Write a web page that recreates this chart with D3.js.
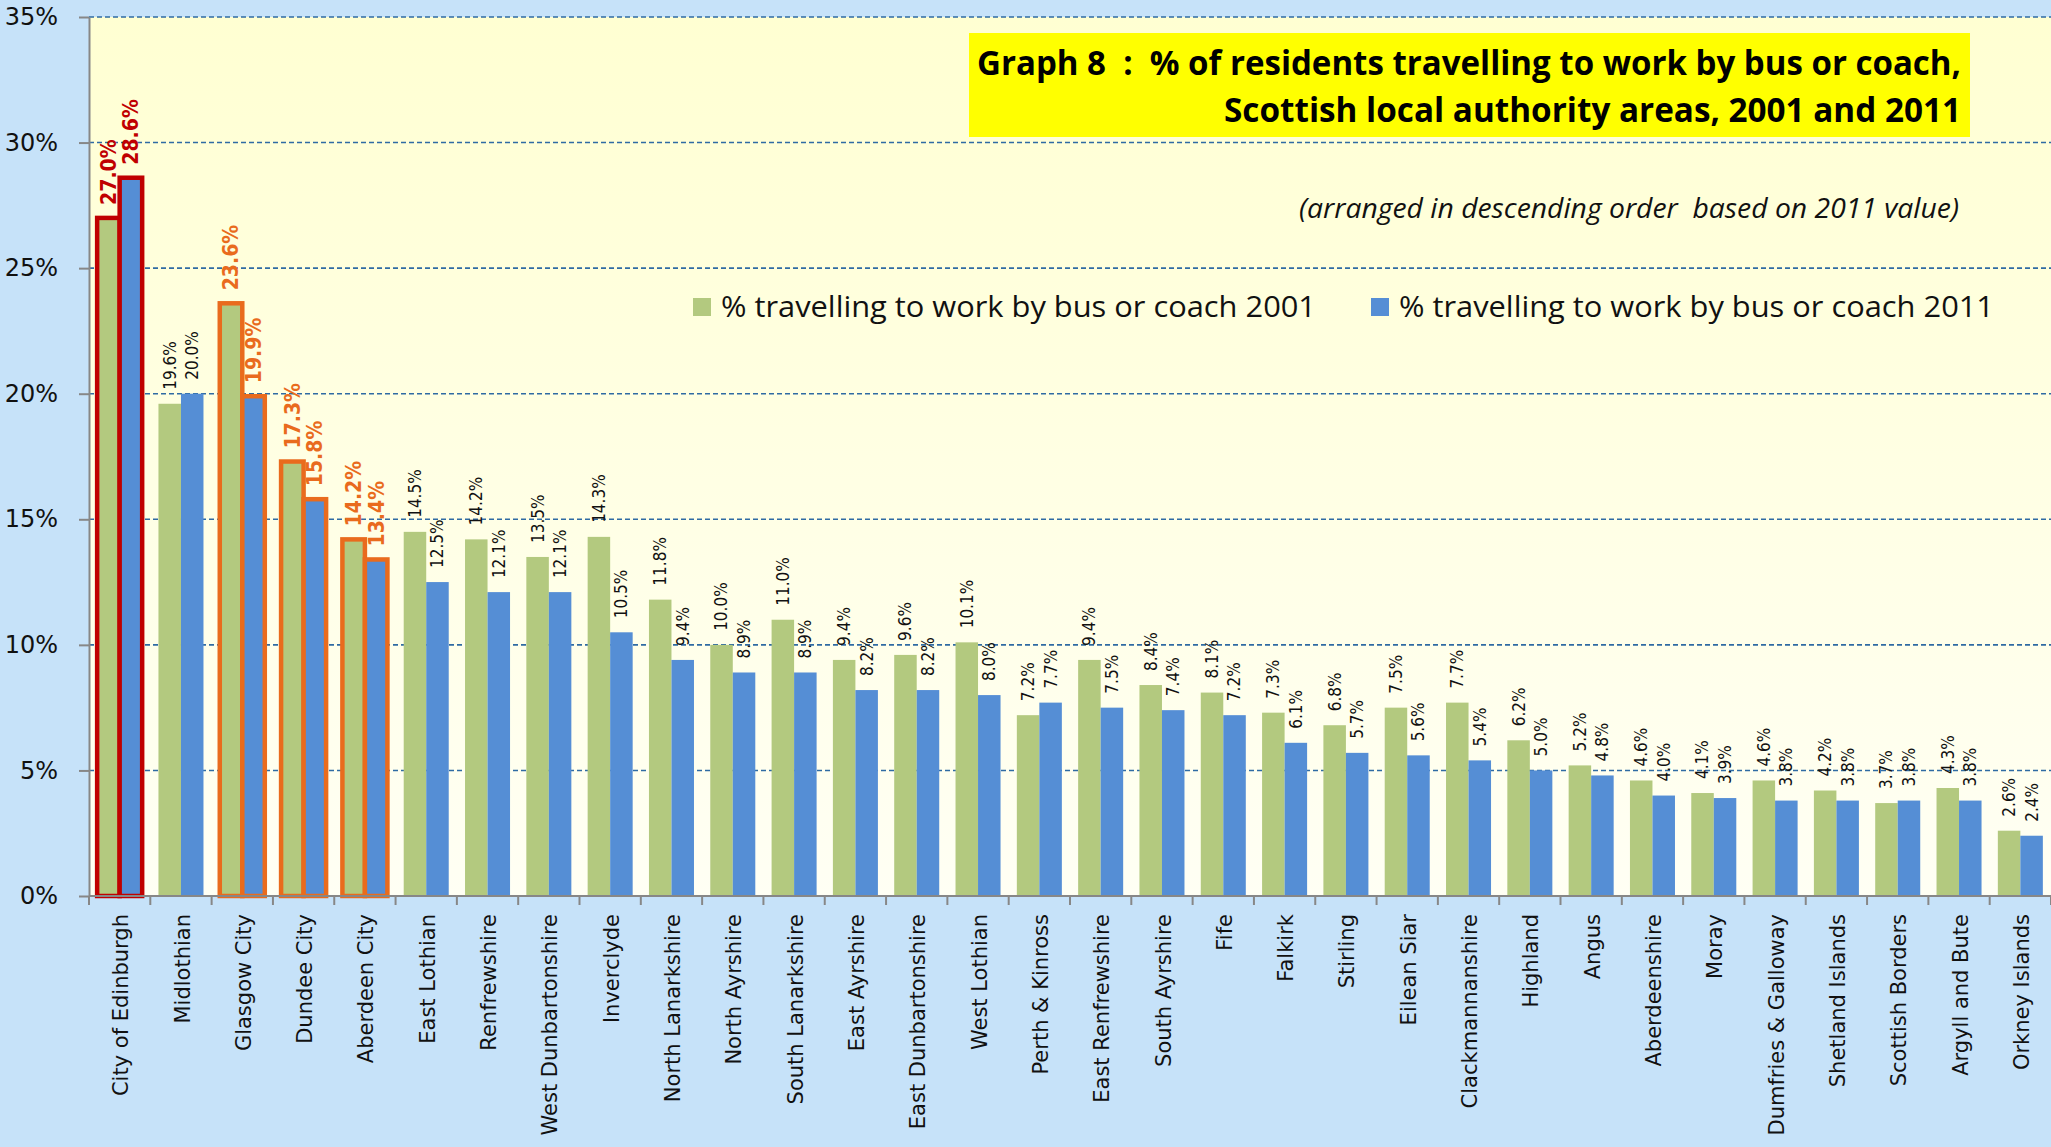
<!DOCTYPE html>
<html>
<head>
<meta charset="utf-8">
<script src="https://cdn.jsdelivr.net/npm/d3@7"></script>
<style>
  html, body { margin: 0; padding: 0; background: #c6e2f9; }
  svg { display: block; }
</style>
</head>
<body>
<svg id="chart"></svg>
<script>
// categories, arranged in descending order of the 2011 value
const categories = [
  "City of Edinburgh", "Midlothian", "Glasgow City", "Dundee City", "Aberdeen City",
  "East Lothian", "Renfrewshire", "West Dunbartonshire", "Inverclyde", "North Lanarkshire",
  "North Ayrshire", "South Lanarkshire", "East Ayrshire", "East Dunbartonshire", "West Lothian",
  "Perth & Kinross", "East Renfrewshire", "South Ayrshire", "Fife", "Falkirk",
  "Stirling", "Eilean Siar", "Clackmannanshire", "Highland", "Angus",
  "Aberdeenshire", "Moray", "Dumfries & Galloway", "Shetland Islands", "Scottish Borders",
  "Argyll and Bute", "Orkney Islands"
];
const values2001 = [
  27.0, 19.6, 23.6, 17.3, 14.2, 14.5, 14.2, 13.5, 14.3, 11.8,
  10.0, 11.0, 9.4, 9.6, 10.1, 7.2, 9.4, 8.4, 8.1, 7.3,
  6.8, 7.5, 7.7, 6.2, 5.2, 4.6, 4.1, 4.6, 4.2, 3.7,
  4.3, 2.6
];
const values2011 = [
  28.6, 20.0, 19.9, 15.8, 13.4, 12.5, 12.1, 12.1, 10.5, 9.4,
  8.9, 8.9, 8.2, 8.2, 8.0, 7.7, 7.5, 7.4, 7.2, 6.1,
  5.7, 5.6, 5.4, 5.0, 4.8, 4.0, 3.9, 3.8, 3.8, 3.8,
  3.8, 2.4
];
const seriesNames = ["% travelling to work by bus or coach 2001", "% travelling to work by bus or coach 2011"];
const yTicks = [0, 5, 10, 15, 20, 25, 30, 35];
const highlightRed = ["City of Edinburgh"];
const highlightOrange = ["Glasgow City", "Dundee City", "Aberdeen City"];
const titleLines = [
  "Graph 8  :  % of residents travelling to work by bus or coach,",
  "Scottish local authority areas, 2001 and 2011"
];
const subtitle = "(arranged in descending order  based on 2011 value)";

var width = 2051,
  height = 1147,
  plotLeft = 89,
  plotRight = 2051,
  plotTop = 17,
  plotBottom = 896;

var green = "#b3c97f",
  blue = "#558ed5",
  red = "#c00000",
  orange = "#e96b1d";

var svg = d3.select("#chart")
  .attr("width", width)
  .attr("height", height);

var defs = svg.append("defs");
var grad = defs.append("linearGradient")
  .attr("id", "plotbg")
  .attr("x1", 0).attr("y1", 0).attr("x2", 0).attr("y2", 1);
grad.append("stop").attr("offset", "0%").attr("stop-color", "#ffffd2");
grad.append("stop").attr("offset", "100%").attr("stop-color", "#fffff4");

svg.append("rect")
  .attr("width", width).attr("height", height)
  .attr("fill", "#c6e2f9");

svg.append("rect")
  .attr("x", plotLeft).attr("y", plotTop)
  .attr("width", plotRight - plotLeft).attr("height", plotBottom - plotTop)
  .attr("fill", "url(#plotbg)");

var x = d3.scaleBand()
  .domain(categories)
  .range([plotLeft, plotRight]);

var xs = d3.scaleBand()
  .domain([0, 1])
  .range([0, x.bandwidth()])
  .paddingOuter(0.362);

var y = d3.scaleLinear()
  .domain([0, 35])
  .range([plotBottom, plotTop]);

// gridlines
svg.append("g")
  .selectAll("line")
  .data(yTicks.filter(d => d > 0))
  .join("line")
  .attr("x1", plotLeft).attr("x2", plotRight)
  .attr("y1", d => y(d)).attr("y2", d => y(d))
  .attr("stroke", "#2f6ba3")
  .attr("stroke-width", 1.6)
  .attr("stroke-dasharray", "5,3");

// y axis
var yAxis = svg.append("g")
  .attr("transform", "translate(" + plotLeft + ",0)")
  .call(d3.axisLeft(y).tickValues(yTicks).tickFormat(d => d + "%").tickSize(10).tickSizeOuter(0).tickPadding(21));
yAxis.select(".domain").attr("stroke", "#878787").attr("stroke-width", 2);
yAxis.selectAll(".tick line").attr("stroke", "#878787").attr("stroke-width", 2);
yAxis.selectAll("text")
  .attr("font-family", "DejaVu Sans")
  .attr("font-size", 24)
  .attr("fill", "#111");

var series = [values2001, values2011];
var colors = [green, blue];

function outline(c) {
  if (highlightRed.indexOf(c) >= 0) return red;
  if (highlightOrange.indexOf(c) >= 0) return orange;
  return null;
}

// bars
series.forEach(function (vals, s) {
  svg.append("g")
    .selectAll("rect")
    .data(categories)
    .join("rect")
    .attr("x", c => x(c) + xs(s))
    .attr("y", (c, i) => y(vals[i]))
    .attr("width", xs.bandwidth())
    .attr("height", (c, i) => plotBottom - y(vals[i]))
    .attr("fill", colors[s])
    .attr("stroke", c => outline(c) || "none")
    .attr("stroke-width", 4.5);
});

// value labels
series.forEach(function (vals, s) {
  svg.append("g")
    .selectAll("text")
    .data(categories)
    .join("text")
    .attr("transform", (c, i) => {
      var cx = x(c) + xs(s) + xs.bandwidth() / 2;
      var cy = y(vals[i]) - (outline(c) ? 13 : 14);
      return "translate(" + cx + "," + cy + ") rotate(-90)";
    })
    .attr("dy", "0.35em")
    .attr("font-family", "DejaVu Sans")
    .attr("font-stretch", "condensed")
    .attr("font-size", c => outline(c) ? 21 : 17)
    .attr("font-weight", c => outline(c) ? "bold" : "normal")
    .attr("fill", c => outline(c) || "#111")
    .text((c, i) => vals[i].toFixed(1) + "%");
});

// x axis
svg.append("line")
  .attr("x1", plotLeft).attr("x2", plotRight)
  .attr("y1", plotBottom).attr("y2", plotBottom)
  .attr("stroke", "#878787").attr("stroke-width", 2);

svg.append("g")
  .selectAll("line")
  .data(categories.map(c => x(c)).concat([plotRight]))
  .join("line")
  .attr("x1", d => d).attr("x2", d => d)
  .attr("y1", plotBottom).attr("y2", plotBottom + 9)
  .attr("stroke", "#878787").attr("stroke-width", 2);

svg.append("g")
  .selectAll("text")
  .data(categories)
  .join("text")
  .attr("transform", c => "translate(" + (x(c) + x.bandwidth() / 2 + 1) + "," + (plotBottom + 18) + ") rotate(-90)")
  .attr("dy", "0.36em")
  .attr("text-anchor", "end")
  .attr("font-family", "DejaVu Sans")
  .attr("font-size", 21)
  .attr("fill", "#111")
  .text(c => c);

// title box
svg.append("rect")
  .attr("x", 969).attr("y", 33)
  .attr("width", 1001).attr("height", 104)
  .attr("fill", "#ffff00");

svg.append("text")
  .attr("x", 977).attr("y", 75)
  .style("white-space", "pre")
  .attr("font-family", "Open Sans")
  .attr("font-weight", "bold")
  .attr("font-size", 34)
  .attr("textLength", 984)
  .attr("lengthAdjust", "spacingAndGlyphs")
  .attr("fill", "#000")
  .text(titleLines[0]);

svg.append("text")
  .attr("x", 1224).attr("y", 122)
  .style("white-space", "pre")
  .attr("font-family", "Open Sans")
  .attr("font-weight", "bold")
  .attr("font-size", 34)
  .attr("textLength", 737)
  .attr("lengthAdjust", "spacingAndGlyphs")
  .attr("fill", "#000")
  .text(titleLines[1]);

svg.append("text")
  .attr("x", 1299).attr("y", 218)
  .style("white-space", "pre")
  .attr("font-family", "Open Sans")
  .attr("font-style", "italic")
  .attr("font-size", 27)
  .attr("textLength", 660)
  .attr("lengthAdjust", "spacingAndGlyphs")
  .attr("fill", "#111")
  .text(subtitle);

// legend
var legendX = [693, 1371];
var legendW = [595, 595];
seriesNames.forEach(function (name, s) {
  svg.append("rect")
    .attr("x", legendX[s]).attr("y", 298)
    .attr("width", 18).attr("height", 18)
    .attr("fill", colors[s]);
  svg.append("text")
    .attr("x", legendX[s] + 28).attr("y", 317)
    .attr("font-family", "Open Sans")
    .attr("font-size", 30)
    .attr("textLength", legendW[s])
    .attr("lengthAdjust", "spacingAndGlyphs")
    .attr("fill", "#111")
    .text(name);
});
</script>
</body>
</html>
